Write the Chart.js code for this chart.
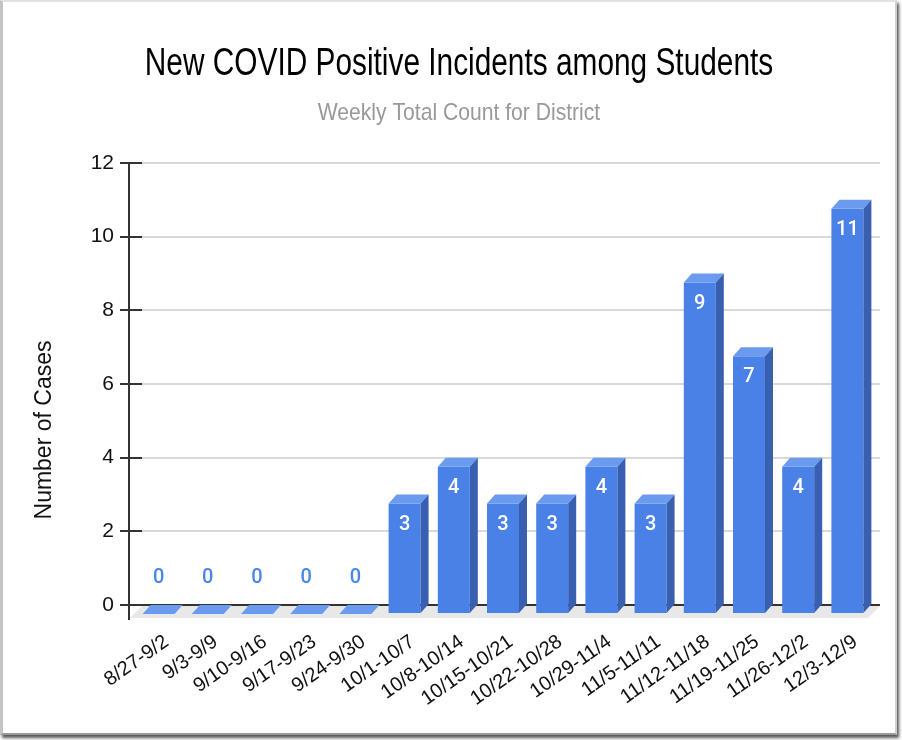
<!DOCTYPE html>
<html>
<head>
<meta charset="utf-8">
<title>New COVID Positive Incidents among Students</title>
<script src="https://cdn.jsdelivr.net/npm/chart.js@4.4.1/dist/chart.umd.min.js"></script>
<style>
  html, body { margin: 0; padding: 0; background: #fff; }
  #wrap { position: relative; width: 902px; height: 740px; overflow: hidden; }
  #chart { position: absolute; left: 0; top: 0; }
  #frame {
    position: absolute; left: 0; top: 0; width: 897px; height: 735px;
    box-sizing: border-box; pointer-events: none;
    border-top: 2px solid #e2e2e2; border-left: 3px solid #c4c4c4;
    border-right: 2px solid #d0d0d0; border-bottom: 2px solid #9a9a9a;
    box-shadow: 2px 3px 3px #555;
  }
</style>
</head>
<body>
<div id="wrap">
  <canvas id="chart" width="902" height="740"></canvas>
  <div id="frame"></div>
</div>
<script>
// weekly ranges and student case counts
const weeks = ['8/27-9/2', '9/3-9/9', '9/10-9/16', '9/17-9/23', '9/24-9/30',
    '10/1-10/7', '10/8-10/14', '10/15-10/21', '10/22-10/28', '10/29-11/4',
    '11/5-11/11', '11/12-11/18', '11/19-11/25', '11/26-12/2', '12/3-12/9'];
const cases = [0, 0, 0, 0, 0, 3, 4, 3, 3, 4, 3, 9, 7, 4, 11];
const yMax = 12;
const yStep = 2;

const titleText = 'New COVID Positive Incidents among Students';
const subtitleText = 'Weekly Total Count for District';
const yTitle = 'Number of Cases';

const SANS = "'Liberation Sans', Arial, sans-serif";

// depth of the fake 3D bars (front face sits left/down of the value)
const DX = 8, DY = 9;

// draws text squeezed horizontally, like the original (narrow) title
function squeezed(ctx, text, x, y, font, color, sx) {
    ctx.save();
    ctx.translate(x, y);
    ctx.scale(sx, 1);
    ctx.font = font;
    ctx.fillStyle = color;
    ctx.textAlign = 'center';
    ctx.textBaseline = 'middle';
    ctx.fillText(text, 0, 0);
    ctx.restore();
}

const bar3d = {
    id: 'bar3d',
    beforeDatasetsDraw(chart) {
        const { ctx, chartArea: a, scales: { y } } = chart;
        const y0 = y.getPixelForValue(0);
        ctx.save();
        // floor under the bars
        ctx.fillStyle = '#e8e8e8';
        ctx.beginPath();
        ctx.moveTo(a.left, y0 + 1);
        ctx.lineTo(a.right, y0 + 1);
        ctx.lineTo(a.right - 12, y0 + 13);
        ctx.lineTo(a.left - 12, y0 + 13);
        ctx.closePath();
        ctx.fill();
        // y axis line
        ctx.strokeStyle = '#333';
        ctx.lineWidth = 2;
        ctx.beginPath();
        ctx.moveTo(a.left - 13, a.top);
        ctx.lineTo(a.left - 13, y0 + 15);
        ctx.stroke();
        ctx.restore();
        // front faces drawn shifted
        ctx.save();
        ctx.translate(-DX, DY);
    },
    afterDatasetsDraw(chart) {
        const { ctx } = chart;
        ctx.restore();
        const meta = chart.getDatasetMeta(0);
        ctx.save();
        meta.data.forEach((bar, i) => {
            const { x, y, base, width } = bar.getProps(['x', 'y', 'base', 'width'], true);
            const l = x - width / 2 - DX, r = x + width / 2 - DX;
            const top = y + DY, bot = base + DY;
            // top face
            ctx.fillStyle = '#6b9bef';
            ctx.beginPath();
            ctx.moveTo(l, top);
            ctx.lineTo(l + DX, top - DY);
            ctx.lineTo(r + DX, top - DY);
            ctx.lineTo(r, top);
            ctx.closePath();
            ctx.fill();
            if (cases[i] > 0) {
                // side face
                ctx.fillStyle = '#395fb0';
                ctx.beginPath();
                ctx.moveTo(r, top);
                ctx.lineTo(r + DX, top - DY);
                ctx.lineTo(r + DX, bot - DY);
                ctx.lineTo(r, bot);
                ctx.closePath();
                ctx.fill();
            }
            // value label
            ctx.font = '500 20px Roboto, ' + SANS;
            ctx.textAlign = 'center';
            ctx.textBaseline = 'middle';
            if (cases[i] > 0) {
                ctx.fillStyle = '#ffffff';
                ctx.fillText(String(cases[i]), x - DX, top + 21);
            } else {
                ctx.fillStyle = '#4a86e8';
                ctx.fillText(String(cases[i]), x - DX, base - 27);
            }
        });
        ctx.restore();
    },
    afterDraw(chart) {
        const { ctx, chartArea: a } = chart;
        const cx = chart.width / 2 + 8;
        squeezed(ctx, titleText, cx, 65, '38px ' + SANS, '#000', 0.785);
        squeezed(ctx, subtitleText, cx, 113, '24px ' + SANS, '#999', 0.88);
        ctx.save();
        ctx.translate(a.left - 97, (a.top + a.bottom) / 2 + 46);
        ctx.rotate(-Math.PI / 2);
        ctx.font = '23px ' + SANS;
        ctx.fillStyle = '#111';
        ctx.textAlign = 'center';
        ctx.textBaseline = 'middle';
        ctx.fillText(yTitle, 0, 0);
        ctx.restore();
    }
};

const ctx = document.getElementById('chart').getContext('2d');
const chart = new Chart(ctx, {
    type: 'bar',
    data: {
        labels: weeks,
        datasets: [{
            label: yTitle,
            data: cases,
            backgroundColor: '#4a81e6',
            borderWidth: 0,
            barPercentage: 0.65,
            categoryPercentage: 1.0,
            clip: false
        }]
    },
    options: {
        responsive: false,
        animation: false,
        layout: { padding: { top: 163, right: 22, bottom: 0, left: 0 } },
        plugins: {
            legend: { display: false },
            tooltip: { enabled: false },
            title: { display: false },
            subtitle: { display: false }
        },
        scales: {
            x: {
                grid: { display: false, drawTicks: false },
                border: { display: false },
                ticks: {
                    autoSkip: false,
                    maxRotation: 35,
                    minRotation: 35,
                    padding: 25,
                    color: '#111',
                    font: { family: SANS, size: 20 }
                },
                afterFit(scale) { scale.height = 135; }
            },
            y: {
                min: 0,
                max: yMax,
                ticks: {
                    stepSize: yStep,
                    padding: 6,
                    color: '#111',
                    font: { family: SANS, size: 21 }
                },
                grid: {
                    color: c => c.tick && c.tick.value === 0 ? '#333' : '#d9d9d9',
                    lineWidth: 2,
                    tickLength: 22,
                    tickColor: '#333'
                },
                border: { display: false },
                afterFit(scale) { scale.width = 142; }
            }
        }
    },
    plugins: [bar3d]
});
</script>
</body>
</html>
